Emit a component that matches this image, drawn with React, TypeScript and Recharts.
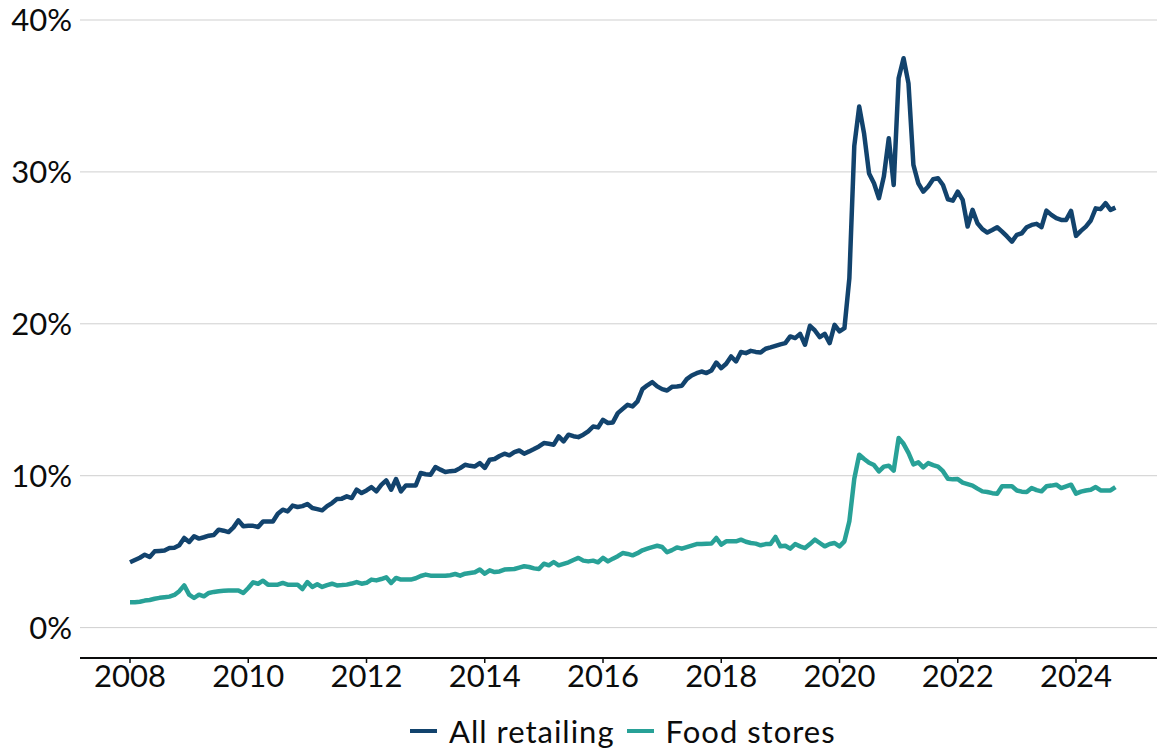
import React from "react";
import {
  LineChart,
  Line,
  XAxis,
  YAxis,
  CartesianGrid,
  Legend,
} from "recharts";

// monthly values, Jan 2008 onwards (% of sales made online)
const allRetailing = [
  4.3, 4.45, 4.6, 4.8, 4.65, 5.02, 5.05, 5.08, 5.24, 5.26,
  5.42, 5.9, 5.64, 6.01, 5.86, 5.95, 6.05, 6.1, 6.45, 6.38,
  6.29, 6.6, 7.06, 6.67, 6.7, 6.7, 6.62, 6.99, 6.99, 6.99,
  7.5, 7.76, 7.65, 8.03, 7.94, 8.0, 8.14, 7.87, 7.8, 7.72,
  8.0, 8.2, 8.46, 8.49, 8.64, 8.53, 9.08, 8.86, 9.03, 9.25,
  8.97, 9.4, 9.69, 9.08, 9.78, 8.97, 9.36, 9.36, 9.36, 10.18,
  10.1, 10.07, 10.57, 10.4, 10.24, 10.3, 10.33, 10.5, 10.72, 10.65,
  10.61, 10.83, 10.51, 11.05, 11.1, 11.3, 11.45, 11.34, 11.55, 11.66,
  11.45, 11.6, 11.76, 11.93, 12.15, 12.1, 12.04, 12.59, 12.26, 12.7,
  12.6, 12.54, 12.7, 12.92, 13.24, 13.18, 13.68, 13.47, 13.51, 14.12,
  14.4, 14.67, 14.56, 14.89, 15.7, 15.95, 16.16, 15.88, 15.7, 15.61,
  15.85, 15.88, 15.92, 16.36, 16.6, 16.75, 16.86, 16.76, 16.93, 17.45,
  17.08, 17.37, 17.85, 17.52, 18.14, 18.07, 18.22, 18.15, 18.11, 18.36,
  18.45, 18.55, 18.65, 18.73, 19.17, 19.06, 19.34, 18.62, 19.87, 19.56,
  19.12, 19.34, 18.73, 19.93, 19.5, 19.71, 23.0, 31.7, 34.3, 32.5,
  29.9, 29.25, 28.27, 29.69, 32.22, 29.14, 36.16, 37.48, 35.83, 30.46,
  29.25, 28.7, 29.04, 29.52, 29.58, 29.14, 28.2, 28.11, 28.7, 28.16,
  26.4, 27.5, 26.62, 26.23, 26.01, 26.18, 26.36, 26.07, 25.75, 25.41,
  25.86, 25.96, 26.36, 26.51, 26.58, 26.36, 27.45, 27.17, 26.95, 26.84,
  26.84, 27.43, 25.79, 26.12, 26.4, 26.8, 27.6, 27.55, 27.94, 27.5,
  27.65,
];

const foodStores = [
  1.67, 1.67, 1.7, 1.78, 1.82, 1.9, 1.96, 2.0, 2.04, 2.15,
  2.4, 2.78, 2.17, 1.95, 2.17, 2.06, 2.28, 2.35, 2.4, 2.43,
  2.45, 2.45, 2.45, 2.28, 2.61, 2.98, 2.89, 3.09, 2.83, 2.83,
  2.83, 2.94, 2.83, 2.83, 2.83, 2.54, 3.0, 2.68, 2.85, 2.68,
  2.8, 2.89, 2.78, 2.8, 2.83, 2.9, 3.0, 2.89, 2.95, 3.16,
  3.11, 3.2, 3.31, 2.94, 3.27, 3.16, 3.16, 3.16, 3.25, 3.4,
  3.49, 3.42, 3.42, 3.42, 3.42, 3.45, 3.53, 3.42, 3.55, 3.6,
  3.64, 3.82, 3.55, 3.77, 3.66, 3.7, 3.82, 3.84, 3.86, 3.95,
  4.04, 3.99, 3.9, 3.86, 4.21, 4.1, 4.32, 4.1, 4.2, 4.3,
  4.45, 4.59, 4.41, 4.36, 4.41, 4.3, 4.59, 4.36, 4.54, 4.7,
  4.91, 4.85, 4.76, 4.9, 5.09, 5.2, 5.3, 5.39, 5.31, 4.96,
  5.1, 5.28, 5.2, 5.3, 5.4, 5.5, 5.5, 5.52, 5.53, 5.9,
  5.46, 5.68, 5.68, 5.68, 5.79, 5.65, 5.57, 5.53, 5.42, 5.5,
  5.5, 5.97, 5.35, 5.39, 5.2, 5.5, 5.35, 5.24, 5.5, 5.79,
  5.57, 5.35, 5.5, 5.57, 5.35, 5.68, 7.0, 9.8, 11.38, 11.1,
  10.85, 10.7, 10.28, 10.6, 10.66, 10.33, 12.48, 12.1, 11.5, 10.75,
  10.88, 10.55, 10.83, 10.7, 10.6, 10.3, 9.8, 9.76, 9.78, 9.55,
  9.45, 9.35, 9.15, 8.97, 8.93, 8.85, 8.82, 9.3, 9.3, 9.3,
  9.03, 8.95, 8.93, 9.19, 9.05, 8.97, 9.3, 9.35, 9.41, 9.19,
  9.3, 9.41, 8.82, 8.95, 9.03, 9.08, 9.25, 9.03, 9.03, 9.03,
  9.25,
];

const startYear = 2008;
const yearTicks = [2008, 2010, 2012, 2014, 2016, 2018, 2020, 2022, 2024];
const percentTicks = [0, 10, 20, 30, 40];

const seriesNames = ["All retailing", "Food stores"];
const COLORS = ["#12436D", "#28A197"];

const FONT = "Lato, 'Noto Sans', sans-serif";
const INK = "#0b0c0c";

const data = allRetailing.map((v, i) => ({
  month: i,
  all: v,
  food: foodStores[i],
}));

const LegendRow = () => (
  <div
    style={{
      display: "flex",
      alignItems: "center",
      paddingLeft: 410,
      marginTop: 6,
      height: 34,
      lineHeight: "34px",
      fontFamily: FONT,
      fontSize: 31,
      letterSpacing: 1,
      color: INK,
    }}
  >
    {seriesNames.map((name, i) => (
      <div key={name} style={{ display: "flex", alignItems: "center", marginRight: 12 }}>
        <span
          style={{
            display: "inline-block",
            width: 27,
            height: 4,
            background: COLORS[i],
            marginRight: 12,
          }}
        />
        <span>{name}</span>
      </div>
    ))}
  </div>
);

export default function App() {
  return (
    <div style={{ position: "absolute", left: 0, top: 0, width: 1157, height: 749, background: "#fff" }}>
      <LineChart
        width={1157}
        height={749}
        data={data}
        margin={{ top: 20, right: 0, bottom: 0, left: 0 }}
      >
        <CartesianGrid vertical={false} stroke="#cfcfcf" strokeWidth={1} />
        <XAxis
          dataKey="month"
          type="number"
          domain={[-10.15, 208.44]}
          allowDataOverflow
          ticks={yearTicks.map((y) => (y - startYear) * 12)}
          tickFormatter={(m: number) => String(startYear + m / 12)}
          interval={0}
          height={50}
          tickSize={5}
          tickMargin={2}
          stroke={INK}
          axisLine={{ stroke: INK, strokeWidth: 2 }}
          tickLine={{ stroke: INK, strokeWidth: 1.5 }}
          tick={{ fill: INK, fontSize: 31, fontFamily: FONT }}
        />
        <YAxis
          domain={[-2, 40]}
          ticks={percentTicks}
          tickFormatter={(v: number) => `${v}%`}
          width={80}
          axisLine={false}
          tickLine={false}
          tick={{ fill: INK, fontSize: 31, fontFamily: FONT }}
        />
        <Legend
          verticalAlign="bottom"
          content={() => <LegendRow />}
          wrapperStyle={{ height: 41, left: 0, width: 1157 }}
        />
        <Line
          type="linear"
          dataKey="all"
          name={seriesNames[0]}
          stroke={COLORS[0]}
          strokeWidth={4.5}
          strokeLinejoin="round"
          dot={false}
          isAnimationActive={false}
        />
        <Line
          type="linear"
          dataKey="food"
          name={seriesNames[1]}
          stroke={COLORS[1]}
          strokeWidth={4.5}
          strokeLinejoin="round"
          dot={false}
          isAnimationActive={false}
        />
      </LineChart>
    </div>
  );
}
